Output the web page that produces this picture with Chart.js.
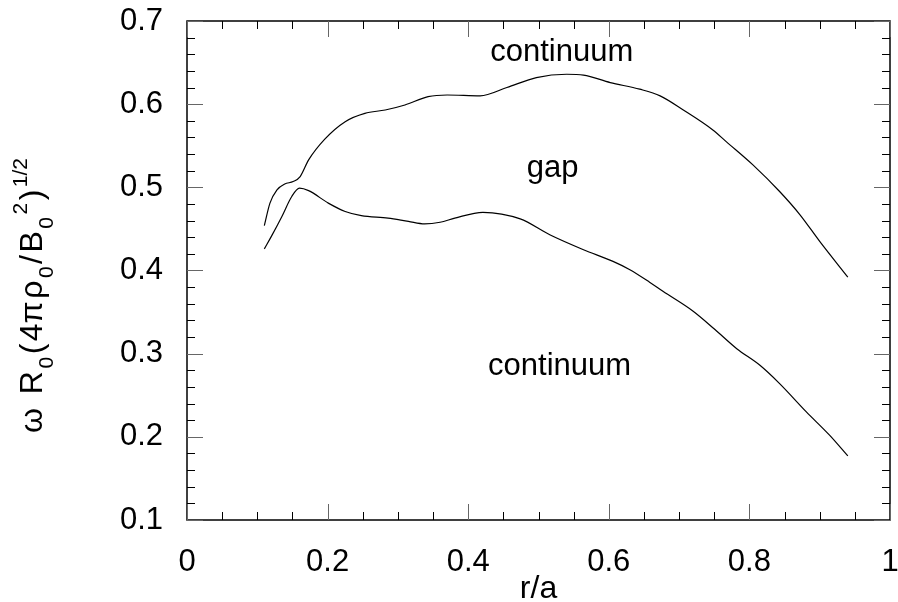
<!DOCTYPE html>
<html>
<head>
<meta charset="UTF-8">
<title>Continuum gap</title>
<script src="https://cdn.jsdelivr.net/npm/chart.js"></script>
<style>
  body { margin: 0; background: #fff; }
  #wrap { width: 898px; height: 602px; position: relative; }
</style>
</head>
<body>
<div id="wrap"><canvas id="gapChart"></canvas></div>
<script>
// upper boundary of the gap
var upperR = [0.110, 0.118, 0.128, 0.139, 0.151, 0.161, 0.173, 0.196, 0.225, 0.253, 0.282, 0.310, 0.343, 0.370, 0.417,
              0.455, 0.497, 0.540, 0.564, 0.602, 0.644, 0.673, 0.706, 0.748, 0.767, 0.805, 0.843, 0.872, 0.900, 0.940];
var upperW = [0.454, 0.481, 0.497, 0.504, 0.507, 0.513, 0.533, 0.558, 0.579, 0.589, 0.593, 0.599, 0.609, 0.611, 0.610,
              0.620, 0.632, 0.636, 0.635, 0.626, 0.618, 0.610, 0.593, 0.569, 0.555, 0.527, 0.495, 0.467, 0.435, 0.392];
// lower boundary of the gap
var lowerR = [0.110, 0.120, 0.135, 0.149, 0.160, 0.173, 0.201, 0.225, 0.248, 0.286, 0.315, 0.338, 0.360, 0.381, 0.421, 0.474,
              0.516, 0.564, 0.606, 0.630, 0.658, 0.677, 0.720, 0.751, 0.782, 0.815, 0.843, 0.881, 0.914, 0.940];
var lowerW = [0.426, 0.441, 0.465, 0.489, 0.499, 0.496, 0.481, 0.471, 0.466, 0.463, 0.459, 0.456, 0.458, 0.463, 0.470, 0.462,
              0.443, 0.425, 0.411, 0.401, 0.386, 0.375, 0.351, 0.329, 0.306, 0.286, 0.264, 0.230, 0.202, 0.177];

var xTickValues = [0, 0.2, 0.4, 0.6, 0.8, 1];
var xTickLabels = ['0', '0.2', '0.4', '0.6', '0.8', '1'];
var yTickValues = [0.1, 0.2, 0.3, 0.4, 0.5, 0.6, 0.7];
var yTickLabels = ['0.1', '0.2', '0.3', '0.4', '0.5', '0.6', '0.7'];

// text notes inside the frame (data coordinates, baseline)
var noteText = ['continuum', 'gap', 'continuum'];
var noteR = [0.533, 0.520, 0.530];
var noteW = [0.652, 0.513, 0.274];

// y title pieces: text + kind (n = normal, sub, sup)
var yTitleParts = [['ω', 'n'], [' ', 'n'], ['R', 'n'], ['0', 'sub'], ['(', 'n'], ['4π', 'n'], ['ρ', 'n'], ['0', 'sub'],
                   ['/', 'n'], ['B', 'n'], ['0', 'sub'], ['2', 'sup'], [')', 'n'], ['1/2', 'sup']];

var FONT = '"Liberation Sans", Arial, sans-serif';

function toPoints(xs, ys) {
  return xs.map(function(x, i) { return { x: x, y: ys[i] }; });
}

// frame + inward ticks on all four sides
var frameTicks = {
  id: 'frameTicks',
  afterDatasetsDraw: function(chart) {
    var ctx = chart.ctx, a = chart.chartArea;
    var xs = chart.scales.x, ys = chart.scales.y;
    ctx.save();
    ctx.strokeStyle = '#000';
    ctx.lineWidth = 1.5;
    ctx.strokeRect(a.left, a.top, a.right - a.left, a.bottom - a.top);

    var i, p, v;
    ctx.lineWidth = 1;
    // x ticks every 0.05
    for (i = 0; i <= 20; i++) {
      v = i * 0.05;
      p = Math.round(xs.getPixelForValue(v)) + 0.5;
      var major = xTickValues.some(function(t) { return Math.abs(t - v) < 1e-6; });
      var len = major ? 16 : 8;
      ctx.strokeStyle = major ? '#666' : '#000';
      ctx.beginPath();
      ctx.moveTo(p, a.bottom); ctx.lineTo(p, a.bottom - len);
      ctx.moveTo(p, a.top); ctx.lineTo(p, a.top + len);
      ctx.stroke();
    }
    // y ticks every 0.02
    for (i = 0; i <= 30; i++) {
      v = 0.1 + i * 0.02;
      p = Math.round(ys.getPixelForValue(v)) + 0.5;
      var majorY = yTickValues.some(function(t) { return Math.abs(t - v) < 1e-6; });
      var lenY = majorY ? 16 : 8;
      ctx.strokeStyle = majorY ? '#666' : '#000';
      ctx.beginPath();
      ctx.moveTo(a.left, p); ctx.lineTo(a.left + lenY, p);
      ctx.moveTo(a.right, p); ctx.lineTo(a.right - lenY, p);
      ctx.stroke();
    }

    // notes
    ctx.fillStyle = '#000';
    ctx.font = '31px ' + FONT;
    ctx.textAlign = 'center';
    ctx.textBaseline = 'alphabetic';
    noteText.forEach(function(t, k) {
      ctx.fillText(t, xs.getPixelForValue(noteR[k]), ys.getPixelForValue(noteW[k]));
    });
    ctx.restore();
  }
};

// rotated y title with sub/superscripts, and x title
var titles = {
  id: 'titles',
  afterDraw: function(chart) {
    var ctx = chart.ctx;
    ctx.save();
    ctx.fillStyle = '#000';
    ctx.textBaseline = 'alphabetic';
    ctx.textAlign = 'left';
    ctx.translate(42, 433);
    ctx.rotate(-Math.PI / 2);
    var pos = 0;
    yTitleParts.forEach(function(part) {
      var kind = part[1];
      ctx.font = (kind === 'n' ? '32px ' : '21px ') + FONT;
      var off = kind === 'sub' ? 11 : (kind === 'sup' ? -15 : 0);
      ctx.fillText(part[0], pos, off);
      pos += ctx.measureText(part[0]).width + 2.5;
    });
    ctx.restore();

    var a = chart.chartArea;
    ctx.save();
    ctx.fillStyle = '#000';
    ctx.font = '32px ' + FONT;
    ctx.textAlign = 'center';
    ctx.textBaseline = 'alphabetic';
    ctx.fillText('r/a', (a.left + a.right) / 2, 598);
    ctx.restore();
  }
};

new Chart(document.getElementById('gapChart'), {
  type: 'scatter',
  data: {
    datasets: [
      { data: toPoints(upperR, upperW), showLine: true, borderColor: '#000', borderWidth: 1.2,
        pointRadius: 0, cubicInterpolationMode: 'monotone', fill: false },
      { data: toPoints(lowerR, lowerW), showLine: true, borderColor: '#000', borderWidth: 1.2,
        pointRadius: 0, cubicInterpolationMode: 'monotone', fill: false }
    ]
  },
  options: {
    responsive: true,
    maintainAspectRatio: false,
    animation: false,
    events: [],
    layout: { padding: { top: 21, right: 8, left: 0, bottom: 0 } },
    plugins: { legend: { display: false }, tooltip: { enabled: false } },
    scales: {
      x: {
        type: 'linear', min: 0, max: 1,
        afterBuildTicks: function(s) { s.ticks = xTickValues.map(function(v) { return { value: v }; }); },
        afterFit: function(s) { s.height = 82; s.paddingLeft = 0; s.paddingRight = 0; },
        grid: { display: false, drawTicks: false },
        border: { display: false },
        ticks: {
          autoSkip: false, maxRotation: 0, padding: 24, color: '#000',
          font: { family: FONT, size: 31 },
          callback: function(v, i) { return xTickLabels[i]; }
        }
      },
      y: {
        type: 'linear', min: 0.1, max: 0.7,
        afterBuildTicks: function(s) { s.ticks = yTickValues.map(function(v) { return { value: v }; }); },
        afterFit: function(s) { s.width = 187; s.paddingTop = 0; s.paddingBottom = 0; },
        grid: { display: false, drawTicks: false },
        border: { display: false },
        ticks: {
          autoSkip: false, padding: 24, color: '#000',
          font: { family: FONT, size: 31 },
          callback: function(v, i) { return yTickLabels[i]; }
        }
      }
    }
  },
  plugins: [frameTicks, titles]
});
</script>
</body>
</html>
